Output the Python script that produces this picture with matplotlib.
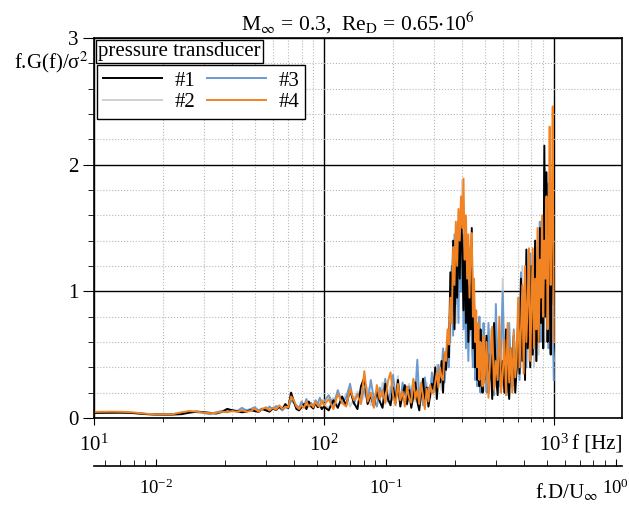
import numpy as np
import matplotlib
matplotlib.use('Agg')
import matplotlib.pyplot as plt
from matplotlib.ticker import LogLocator, MultipleLocator, NullFormatter

plt.rcParams['font.family'] = ['Liberation Serif', 'DejaVu Serif']
plt.rcParams['mathtext.fontset'] = 'stix'

# frequency grid [Hz]
f_low = [10, 11, 12, 13, 14, 15, 16, 17, 18, 19,
         20, 22, 24, 26, 28, 30, 32, 34, 36, 38,
         40, 42, 44, 46, 48, 50, 52, 54, 56, 58,
         60, 62, 64, 66, 68, 70, 72, 74, 76, 78,
         80, 82, 84, 86, 88, 90, 92, 94, 96, 98]
f_mid = [100, 105, 110, 115, 120, 125, 130, 135, 140, 145,
         150, 155, 160, 165, 170, 175, 180, 185, 190, 195,
         200, 205, 210, 215, 220, 225, 230, 235, 240, 245,
         250, 255, 260, 265, 270, 275, 280, 285, 290, 295,
         300, 305, 310, 315, 320, 325, 330, 335, 340, 345,
         350, 355, 360, 365, 370, 375, 380, 385, 390, 395,
         400, 405, 410, 415, 420, 425, 430, 435, 440, 445,
         450, 455, 460, 465, 470, 475, 480, 485, 490, 495]
f_high = [500, 510, 520, 530, 540, 550, 560, 570, 580, 590,
          600, 610, 620, 630, 640, 650, 660, 670, 680, 690,
          700, 710, 720, 730, 740, 750, 760, 770, 780, 790,
          800, 810, 820, 830, 840, 850, 860, 870, 880, 890,
          900, 910, 920, 930, 940, 950, 960, 970, 980, 990, 1000]

# f.G(f)/sigma^2, transducer #1
p1 = [.040, .041, .042, .042, .041, .038, .034, .030, .028, .027,
      .026, .027, .030, .042, .050, .046, .040, .035, .048, .072,
      .060, .052, .045, .050, .062, .055, .048, .070, .060, .050,
      .075, .062, .090, .070, .110, .080, .200, .130, .070, .060,
      .085, .110, .070, .130, .090, .075, .120, .085, .100, .070,
      .09, .06, .14, .08, .17, .10, .22, .12, .07, .25,
      .32, .11, .18, .09, .21, .13, .08, .27, .15, .10,
      .24, .12, .30, .09, .19, .26, .11, .22, .08, .17,
      .28, .13, .06, .20, .31, .12, .24, .09, .18, .27,
      .22, .40, .15, .33, .28, .45, .20, .50, .38, .62,
      .48, 1.15, .80, 1.40, .70, 1.25, .95, 1.55, 1.10, 1.70,
      1.30, .85, 1.45, .75, 1.20, .60, 1.05, .70, 1.50, .55,
      .90, .40, .65, .30, .55, .25, .70, .35, .20, .45,
      .30, .65, .20, .50, .15, .75, .35, .18, .60, .25,
      .45, .20, .70, .30, .15, .55, .25, .65, .20, .40,
      .80, .35, 1.10, .45, .90, .30, 1.33, .55, 1.00, .40,
      1.20, .50, .95, 1.40, .45, 1.10, .60, 1.50, .75, 1.25,
      .55, 2.15, .80, 1.94, .60, 1.45, 1.10, .50, 1.70, 1.30, .90]

# transducer #2
p2 = [.044, .045, .045, .044, .042, .039, .035, .031, .029, .028,
      .028, .030, .038, .050, .052, .044, .036, .042, .052, .058,
      .062, .055, .070, .058, .066, .080, .058, .072, .070, .075,
      .078, .080, .095, .072, .100, .085, .180, .135, .090, .075,
      .110, .090, .140, .095, .115, .085, .135, .100, .120, .110,
      .11, .08, .16, .10, .13, .19, .09, .15, .21, .12,
      .18, .24, .10, .16, .22, .13, .28, .11, .19, .25,
      .14, .20, .33, .12, .18, .24, .10, .27, .15, .21,
      .13, .30, .17, .23, .11, .19, .28, .14, .22, .32,
      .18, .30, .42, .25, .35, .22, .48, .32, .55, .40,
      .70, .60, 1.00, .85, 1.30, .75, 1.45, 1.05, 1.60, 1.20,
      1.88, 1.00, 1.40, .80, 1.25, .95, .65, 1.10, .75, 1.00,
      .50, .80, .35, .60, .28, .75, .40, .22, .55, .30,
      .22, .55, .30, .70, .18, .45, .25, .62, .20, .40,
      1.10, .28, .50, .18, .65, .30, .45, .22, .60, .35,
      .50, .95, .40, 1.20, .35, .85, .60, 1.15, .45, 1.00,
      .70, 1.30, .40, 1.05, .80, 1.35, .50, 1.20, .90, 1.45,
      1.10, .60, 1.75, .80, 1.50, .70, 1.90, .90, 1.40, .60, .45]

# transducer #3
p3 = [.045, .046, .046, .045, .043, .040, .036, .032, .030, .029,
      .028, .030, .040, .048, .046, .040, .030, .045, .055, .050,
      .065, .055, .080, .060, .070, .085, .060, .075, .065, .090,
      .070, .095, .080, .060, .085, .075, .140, .120, .100, .080,
      .130, .095, .150, .100, .120, .090, .140, .110, .160, .120,
      .13, .18, .10, .22, .12, .16, .27, .11, .19, .14,
      .23, .12, .30, .15, .09, .24, .17, .31, .13, .20,
      .34, .16, .22, .11, .28, .19, .13, .25, .18, .30,
      .21, .46, .15, .26, .10, .32, .19, .24, .16, .36,
      .25, .35, .20, .42, .30, .38, .55, .28, .45, .60,
      .40, .85, 1.20, .65, 1.45, .90, 1.30, .75, 1.60, 1.00,
      1.45, .70, 1.20, .55, 1.00, .45, .85, 1.15, .60, .40,
      1.00, .30, .65, .25, .50, .80, .20, .60, .35, .75,
      .45, .20, .75, .30, .60, .18, .90, .35, .25, .55,
      1.00, .30, .60, .20, .75, .40, .25, .70, .35, .55,
      .65, .30, 1.15, .50, .85, 1.10, .40, .95, .60, 1.30,
      .50, 1.15, .75, 1.40, .45, 1.25, .90, 1.55, .60, 1.20,
      .70, 1.97, 1.60, .90, 1.85, .55, 1.40, 1.00, 1.65, .80, .30]

# transducer #4
p4 = [.048, .049, .050, .049, .047, .043, .038, .033, .030, .028,
      .027, .030, .045, .055, .050, .042, .038, .040, .050, .045,
      .055, .048, .060, .050, .055, .075, .050, .070, .085, .060,
      .080, .065, .100, .070, .090, .085, .170, .140, .090, .070,
      .100, .080, .130, .090, .110, .085, .130, .100, .090, .140,
      .10, .15, .07, .19, .12, .09, .23, .14, .18, .11,
      .37, .13, .20, .08, .26, .15, .22, .12, .29, .36,
      .18, .10, .27, .14, .21, .09, .25, .16, .12, .31,
      .15, .22, .11, .28, .17, .07, .23, .13, .26, .20,
      .20, .28, .36, .24, .40, .32, .30, .52, .45, .70,
      .58, .95, .75, 1.35, 1.05, 1.55, 1.20, 1.65, 1.40, 1.75,
      1.50, 1.89, 1.25, 1.60, 1.10, 1.45, .95, 1.35, 1.46, .80,
      1.10, .60, .85, .40, .75, .30, .60, .45, .25, .65,
      .28, .60, .16, .50, .72, .22, .45, .30, .80, .20,
      .35, .62, .18, .75, .28, .55, .20, .68, .32, .48,
      .95, .40, .70, 1.05, .35, 1.20, .60, .90, 1.34, .45,
      .85, 1.34, .55, 1.10, .70, 1.50, .60, 1.25, .95, 1.60,
      .80, 1.40, 1.10, 1.75, .70, 1.30, 2.30, 1.05, 1.60, 2.46, .60]

freq = np.array(f_low + f_mid + f_high)
D_over_U = 1/1860.
fs = 15

fig = plt.figure(figsize=(6.29, 5.05), dpi=100)
ax = fig.add_axes([0.1494, 0.1723, 0.8394, 0.7525])

l2, = ax.plot(freq, p2, color='#cfcfcf', lw=1.4)
l3, = ax.plot(freq, p3, color='#6a9bd0', lw=1.4)
l1, = ax.plot(freq, p1, color='black', lw=1.4)
l4, = ax.plot(freq, p4, color='#f28322', lw=1.4)

ax.set_xscale('log')
ax.set_xlim(10, 1980)
ax.set_ylim(0, 3)
ax.yaxis.set_major_locator(MultipleLocator(1))
ax.yaxis.set_minor_locator(MultipleLocator(0.2))
ax.xaxis.set_minor_locator(LogLocator(base=10, subs=np.arange(2, 10)))
ax.xaxis.set_minor_formatter(NullFormatter())
ax.grid(True, which='major', color='black', lw=1.0, ls='-')
ax.grid(True, which='minor', color='#b8b8b8', lw=0.8, ls=':')
ax.set_axisbelow(True)
ax.tick_params(which='both', labelsize=fs, direction='out')
ax.tick_params(axis='x', which='major', length=5, pad=7)
ax.tick_params(axis='x', which='minor', length=3)
ax.tick_params(axis='y', which='major', length=8, pad=3)
ax.tick_params(axis='y', which='minor', length=4)
for s in ax.spines.values():
    s.set_linewidth(1.2)

ax.set_title(r'M$_\infty$ = 0.3,  Re$_\mathrm{D}$ = 0.65$\cdot$10$^6$', fontsize=15.5, pad=5)
ax.text(-0.01, 0.935, r'f.G(f)/σ$^2$', transform=ax.transAxes,
        ha='right', va='center', fontsize=fs)
ax.text(1.0, -0.072, 'f [Hz]', transform=ax.transAxes, ha='right', va='center', fontsize=fs)

# second frequency axis f.D/U
sec = ax.secondary_xaxis(-0.126, functions=(lambda x: x*D_over_U, lambda x: x/D_over_U))
sec.xaxis.set_minor_locator(LogLocator(base=10, subs=np.arange(2, 10)))
sec.xaxis.set_minor_formatter(NullFormatter())
sec.tick_params(which='both', direction='in', labelsize=13.5, pad=9)
sec.tick_params(which='major', length=5)
sec.tick_params(which='minor', length=4)
sec.spines['bottom'].set_linewidth(1.2)
ax.text(0.895, -0.195, r'f.D/U$_\infty$', transform=ax.transAxes, ha='center', va='center', fontsize=fs)

ax.text(0.008, 0.99, 'pressure transducer', transform=ax.transAxes, ha='left', va='top',
        fontsize=fs, bbox=dict(boxstyle='square,pad=0.1', fc='white', ec='black', lw=1.0))
leg = ax.legend([l1, l2, l3, l4], ['#1', '#2', '#3', '#4'], ncol=2, loc='upper left',
                bbox_to_anchor=(0.006, 0.929), borderaxespad=0, fontsize=fs,
                handlelength=2.8, handletextpad=0.6, columnspacing=0.6,
                fancybox=False, framealpha=1, edgecolor='black',
                borderpad=0.3, labelspacing=0.1)
leg.get_frame().set_linewidth(1.0)

plt.savefig('out.png', dpi=100)
